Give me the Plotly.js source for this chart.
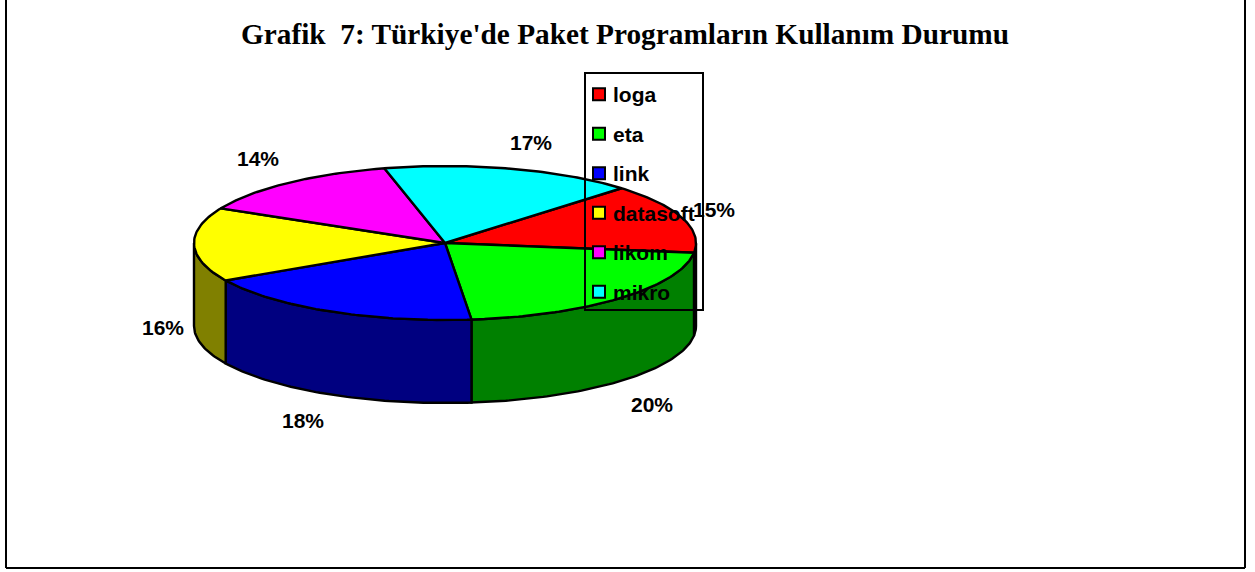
<!DOCTYPE html>
<html>
<head>
<meta charset="utf-8">
<script src="https://cdn.plot.ly/plotly-3.0.1.min.js"></script>
<style>html,body{margin:0;padding:0;background:#fff}#chart{width:1255px;height:572px}</style>
</head>
<body>
<div id="chart"></div>
<script>
// Data
const categories = ['loga', 'eta', 'link', 'datasoft', 'likom', 'mikro'];
const sliceShares = [14.6, 21.3, 18.6, 15.5, 13.7, 16.3];   // slice sizes as measured
const percentLabels = ['15%', '20%', '18%', '16%', '14%', '17%'];   // printed labels
const topColors = ['#ff0000', '#00ff00', '#0000ff', '#ffff00', '#ff00ff', '#00ffff'];
const sideColors = ['#800000', '#008000', '#000080', '#808000', '#800080', '#008080'];

// Geometry of the tilted pie (pixels)
const W = 1255, H = 572, CX = 445, CY = 243, RX = 251, RY = 77, DEPTH = 83, START = 45.3;
const labelPx = [[714, 209], [652, 404], [303, 420], [163, 327], [258, 158], [531, 142]];
const DEPTH_U = DEPTH / RY;

const total = sliceShares.reduce((a, b) => a + b, 0);
const rad = d => d * Math.PI / 180;
let from = START;
const slices = sliceShares.map(v => {
  const to = from - v / total * 360;
  const s = {from, to};
  from = to;
  return s;
});

function arc(a, b) {
  const n = Math.max(2, Math.ceil(Math.abs(a - b)));
  const xs = [], ys = [];
  for (let i = 0; i <= n; i++) {
    const t = rad(a + (b - a) * i / n);
    xs.push(Math.cos(t));
    ys.push(Math.sin(t));
  }
  return [xs, ys];
}

const traces = [];
const outline = {color: '#000', width: 2.4};

// Side walls: only the front half of the rim (angles -180..0) is visible
slices.forEach((s, i) => {
  const a = Math.min(s.from, 0), b = Math.max(s.to, -180);
  if (a <= b) return;
  const [xs, ys] = arc(a, b);
  traces.push({
    type: 'scatter', mode: 'lines', fill: 'toself', fillcolor: sideColors[i], line: outline,
    x: xs.concat(xs.slice().reverse(), [xs[0]]),
    y: ys.concat(ys.slice().reverse().map(y => y - DEPTH_U), [ys[0]]),
    showlegend: false, hoverinfo: 'skip'
  });
});

// Top faces
slices.forEach((s, i) => {
  const [xs, ys] = arc(s.from, s.to);
  traces.push({
    type: 'scatter', mode: 'lines', fill: 'toself', fillcolor: topColors[i], line: outline,
    x: [0].concat(xs, [0]), y: [0].concat(ys, [0]),
    name: categories[i], showlegend: false, hoverinfo: 'skip'
  });
});

// Legend entries
categories.forEach((c, i) => {
  traces.push({
    type: 'scatter', mode: 'markers', x: [null], y: [null], name: c, legendgroup: c,
    marker: {symbol: 'square', size: 12, color: topColors[i], line: {color: '#000', width: 2}},
    hoverinfo: 'skip'
  });
});

const sansFamily = '"Liberation Sans", Arial, sans-serif';

const annotations = percentLabels.map((t, i) => ({
  text: '<b>' + t + '</b>', showarrow: false, xref: 'paper', yref: 'paper',
  x: labelPx[i][0] / W, y: 1 - labelPx[i][1] / H, xanchor: 'center', yanchor: 'middle',
  font: {family: sansFamily, size: 21, color: '#000'}
}));

const frameLine = {color: '#000', width: 2};
const layout = {
  width: W, height: H, margin: {l: 0, r: 0, t: 0, b: 0},
  paper_bgcolor: '#fff', plot_bgcolor: 'rgba(0,0,0,0)',
  title: {
    text: "<b>Grafik  7: Türkiye'de Paket Programların Kullanım Durumu</b>",
    x: 625 / W, y: 1 - 34 / H, xref: 'paper', yref: 'paper', xanchor: 'center', yanchor: 'middle',
    font: {family: '"Liberation Serif", "Times New Roman", serif', size: 29.3, color: '#000'}
  },
  xaxis: {visible: false, range: [-CX / RX, (W - CX) / RX], fixedrange: true},
  yaxis: {visible: false, range: [-(H - CY) / RY, CY / RY], fixedrange: true},
  showlegend: true,
  legend: {
    x: 573 / W, y: 1 - 74 / H, xanchor: 'left', yanchor: 'top',
    bgcolor: 'rgba(0,0,0,0)', borderwidth: 0,
    font: {family: sansFamily, size: 21, color: '#000', weight: 700},
    itemwidth: 30, itemsizing: 'trace', tracegroupgap: 9.2, traceorder: 'grouped',
    entrywidth: 88, entrywidthmode: 'pixels'
  },
  shapes: [
    {type: 'line', xref: 'paper', yref: 'paper', x0: 6 / W, x1: 6 / W, y0: 1 - 568 / H, y1: 1, line: frameLine},
    {type: 'line', xref: 'paper', yref: 'paper', x0: 1245 / W, x1: 1245 / W, y0: 1 - 568 / H, y1: 1, line: frameLine},
    {type: 'line', xref: 'paper', yref: 'paper', x0: 6 / W, x1: 1245 / W, y0: 1 - 568 / H, y1: 1 - 568 / H, line: frameLine},
    {type: 'rect', layer: 'above', xref: 'paper', yref: 'paper', x0: 585 / W, x1: 703 / W, y0: 1 - 310 / H, y1: 1 - 73 / H, line: frameLine, fillcolor: 'rgba(0,0,0,0)'}
  ],
  annotations: annotations
};

Plotly.newPlot('chart', traces, layout, {displayModeBar: false, responsive: false}).then(gd => {
  const nudge = () => gd.querySelectorAll('.legend .legendsymbols').forEach(el => el.setAttribute('transform', 'translate(6,0)'));
  nudge();
  gd.on('plotly_afterplot', nudge);
});
</script>
</body>
</html>
